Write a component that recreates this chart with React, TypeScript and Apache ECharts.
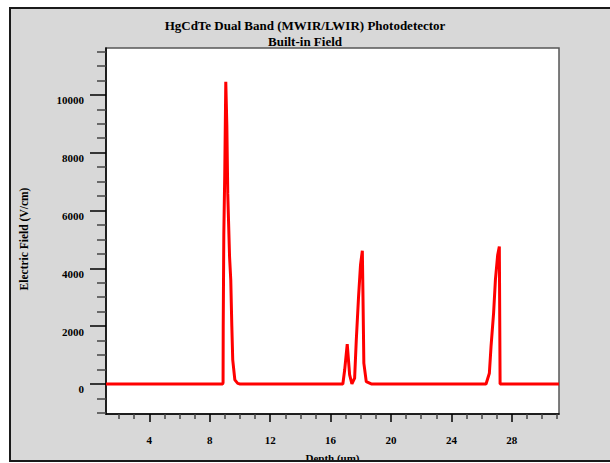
import React, { useEffect, useRef } from "react";
import * as echarts from "echarts";

const titleLines = ["HgCdTe Dual Band (MWIR/LWIR) Photodetector", "Built-in Field"];
const xName = "Depth (um)";
const yName = "Electric Field (V/cm)";

const depth = [
  1.13, 8.85, 8.88, 8.89, 8.93, 8.99, 9.06, 9.13, 9.19, 9.31, 9.39, 9.46, 9.52, 9.66, 9.85, 10.0,
  16.81, 16.93, 17.1, 17.26, 17.41, 17.59, 17.7, 17.85, 17.98, 18.1, 18.14, 18.2, 18.36, 18.69,
  26.29, 26.51, 26.62, 26.79, 26.91, 27.06, 27.17, 27.22, 31.12,
];
const field = [
  0, 0, 40, 2000, 5200, 7200, 10450, 8950, 6600, 4400, 3600, 2000, 830, 140, 20, 0,
  0, 480, 1380, 310, 0, 200, 1520, 3020, 4120, 4610, 3150, 720, 80, 0,
  0, 370, 1290, 2450, 3600, 4460, 4750, 0, 0,
];

const xMajorTicks = [4, 8, 12, 16, 20, 24, 28];
const xMinorTicks = [2, 3, 5, 6, 7, 9, 10, 11, 13, 14, 15, 17, 18, 19, 21, 22, 23, 25, 26, 27, 29, 30, 31];
const yMajorTicks = [0, 2000, 4000, 6000, 8000, 10000];
const yMinorTicks = [
  -1000, -500, 500, 1000, 1500, 2500, 3000, 3500, 4500, 5000, 5500, 6500, 7000, 7500,
  8500, 9000, 9500, 10500, 11000, 11500,
];
const xRange = [1.13, 31.12];
const yRange = [-1040, 11620];

const FONT = "'Liberation Serif', 'DejaVu Serif', serif";

export default function App() {
  const ref = useRef<HTMLDivElement>(null);
  useEffect(() => {
    if (!ref.current) return;
    const chart = echarts.init(ref.current, null, { renderer: "svg" });
    const labelStyle = { fontFamily: FONT, fontWeight: "bold" as const, fontSize: 11, color: "#000" };
    chart.setOption({
      animation: false,
      title: {
        text: titleLines.join("\n"),
        left: "center",
        top: 12,
        textStyle: { fontFamily: FONT, fontWeight: "bold", fontSize: 13, lineHeight: 16, color: "#000" },
      },
      grid: {
        left: 106,
        right: 51,
        top: 48,
        bottom: 49,
        show: true,
        backgroundColor: "#ffffff",
        borderColor: "#555",
        borderWidth: 1.5,
        containLabel: false,
        outerBoundsMode: "none",
      },
      xAxis: [
        {
          type: "value",
          position: "bottom",
          min: xRange[0],
          max: xRange[1],
          name: xName,
          nameLocation: "middle",
          nameGap: 38,
          nameTextStyle: labelStyle,
          axisLine: { show: true, onZero: false, lineStyle: { color: "#000", width: 1.5 } },
          axisTick: { show: true, customValues: xMajorTicks, length: 8, lineStyle: { color: "#000", width: 1.5 } },
          axisLabel: { customValues: xMajorTicks, margin: 20, formatter: (v: number) => String(v), ...labelStyle },
          splitLine: { show: false },
        },
        {
          type: "value",
          position: "bottom",
          min: xRange[0],
          max: xRange[1],
          axisLine: { show: false, onZero: false },
          axisTick: { show: true, customValues: xMinorTicks, length: 5, lineStyle: { color: "#444", width: 1.5 } },
          axisLabel: { show: false },
          splitLine: { show: false },
        },
      ],
      yAxis: [
        {
          type: "value",
          position: "left",
          min: yRange[0],
          max: yRange[1],
          name: yName,
          nameLocation: "middle",
          nameRotate: 90,
          nameGap: 76,
          nameTextStyle: { ...labelStyle, fontSize: 11.5, padding: [0, 16, 0, 0] },
          axisLine: { show: true, onZero: false, lineStyle: { color: "#000", width: 1.5 } },
          axisTick: { show: true, customValues: yMajorTicks, length: 16, lineStyle: { color: "#000", width: 1.5 } },
          axisLabel: {
            customValues: yMajorTicks,
            margin: 22,
            formatter: (v: number) => String(v),
            verticalAlign: "top",
            ...labelStyle,
          },
          splitLine: { show: false },
        },
        {
          type: "value",
          position: "left",
          min: yRange[0],
          max: yRange[1],
          axisLine: { show: false, onZero: false },
          axisTick: { show: true, customValues: yMinorTicks, length: 9, lineStyle: { color: "#444", width: 1.5 } },
          axisLabel: { show: false },
          splitLine: { show: false },
        },
      ],
      series: [
        {
          type: "line",
          xAxisIndex: 0,
          yAxisIndex: 0,
          data: depth.map((d, i) => [d, field[i]]),
          showSymbol: false,
          symbol: "none",
          lineStyle: { color: "#ff0000", width: 3, join: "bevel" },
          clip: true,
        },
      ],
    });
    return () => chart.dispose();
  }, []);
  return (
    <div
      style={{
        position: "fixed",
        left: 9,
        top: 7,
        width: 601,
        height: 455,
        boxSizing: "border-box",
        border: "2px solid #1a1a1a",
        borderRight: "none",
        background: "#d8d8d8",
        overflow: "hidden",
      }}
    >
      <div ref={ref} style={{ position: "absolute", left: -11, top: -9, width: 610, height: 463 }} />
    </div>
  );
}
